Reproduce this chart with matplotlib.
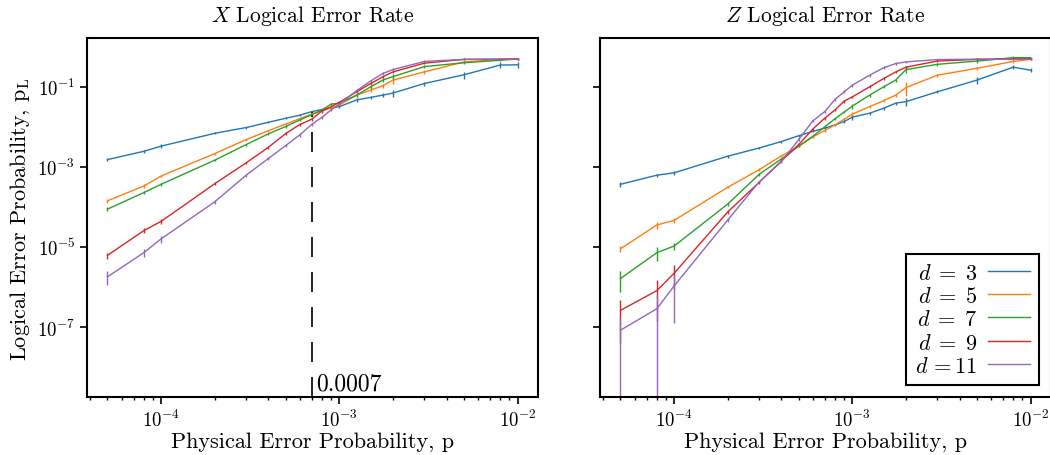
import matplotlib
matplotlib.use("Agg")
import matplotlib.pyplot as plt
import numpy as np
from matplotlib.ticker import FixedLocator, NullLocator, LogLocator

plt.rcParams['mathtext.fontset'] = 'cm'
plt.rcParams['font.family'] = 'serif'
plt.rcParams['font.serif'] = ['cmr10', 'DejaVu Serif']
plt.rcParams['axes.formatter.use_mathtext'] = True
plt.rcParams['axes.unicode_minus'] = False

# Physical error probabilities
p = [5e-5, 8e-5, 1e-4, 2e-4, 3e-4, 4e-4, 5e-4, 6e-4, 7e-4, 8e-4, 9e-4,
     1e-3, 1.25e-3, 1.5e-3, 1.75e-3, 2e-3, 3e-3, 5e-3, 8e-3, 1e-2]

distances = [3, 5, 7, 9, 11]
labels = [r'$d\;=\;3\hspace{0.11}$', r'$d\;=\;5\hspace{0.11}$', r'$d\;=\;7\hspace{0.11}$',
          r'$d\;=\;9\hspace{0.11}$', r'$d\,=11$']
colors = ['#1f77b4', '#ff7f0e', '#2ca02c', '#d62728', '#9467bd']

# X logical error rate
x_d3 = [1.52e-3, 2.45e-3, 3.3e-3, 6.9e-3, 9.6e-3, 1.3e-2, 1.64e-2, 1.95e-2, 2.4e-2, 2.7e-2, 2.96e-2,
        3.2e-2, 4.7e-2, 5.45e-2, 6.2e-2, 7.0e-2, 0.121, 0.20, 0.35, 0.355]
x_d5 = [1.42e-4, 3.33e-4, 5.9e-4, 2.15e-3, 4.8e-3, 8.0e-3, 1.17e-2, 1.6e-2, 2.1e-2, 2.5e-2, 3.0e-2,
        3.5e-2, 6.2e-2, 8.3e-2, 0.106, 0.147, 0.236, 0.417, 0.485, 0.505]
x_d7 = [8.8e-5, 2.28e-4, 3.67e-4, 1.47e-3, 3.6e-3, 6.7e-3, 1.02e-2, 1.49e-2, 2.0e-2, 2.65e-2, 3.7e-2,
        3.9e-2, 6.2e-2, 0.10, 0.147, 0.18, 0.32, 0.40, 0.46, 0.50]
x_d9 = [6.15e-6, 2.56e-5, 4.35e-5, 3.8e-4, 1.26e-3, 3.08e-3, 6.8e-3, 1.14e-2, 1.55e-2, 2.5e-2, 3.2e-2,
        4.1e-2, 7.5e-2, 0.121, 0.177, 0.236, 0.39, 0.485, 0.49, 0.49]
x_d11 = [1.79e-6, 7.2e-6, 1.59e-5, 1.34e-4, 6.2e-4, 1.62e-3, 3.4e-3, 6.3e-3, 1.15e-2, 1.74e-2, 2.65e-2,
         3.7e-2, 8.0e-2, 0.14, 0.214, 0.27, 0.43, 0.485, 0.49, 0.49]

# relative error bars (X)
xe_d3 = [0.10, 0.08, 0.10, 0.06, 0.06, 0.06, 0.06, 0.06, 0.06, 0.06, 0.06,
         0.08, 0.10, 0.10, 0.10, 0.20, 0.12, 0.20, 0.17, 0.17]
xe_d5 = [0.10, 0.10, 0.08, 0.06, 0.06, 0.06, 0.06, 0.06, 0.06, 0.06, 0.06,
         0.08, 0.10, 0.10, 0.10, 0.20, 0.10, 0.08, 0.06, 0.06]
xe_d7 = [0.10, 0.08, 0.08, 0.06, 0.06, 0.06, 0.06, 0.06, 0.06, 0.06, 0.06,
         0.10, 0.10, 0.10, 0.10, 0.17, 0.08, 0.08, 0.06, 0.06]
xe_d9 = [0.17, 0.14, 0.14, 0.08, 0.08, 0.08, 0.10, 0.10, 0.10, 0.10, 0.08,
         0.08, 0.08, 0.08, 0.08, 0.08, 0.06, 0.06, 0.06, 0.06]
xe_d11 = [0.39, 0.23, 0.20, 0.10, 0.08, 0.08, 0.10, 0.10, 0.10, 0.10, 0.08,
          0.08, 0.08, 0.08, 0.08, 0.08, 0.06, 0.06, 0.06, 0.06]

# Z logical error rate
z_d3 = [3.67e-4, 6.2e-4, 7.1e-4, 1.85e-3, 2.96e-3, 4.3e-3, 6.0e-3, 7.7e-3, 9.3e-3, 1.12e-2, 1.36e-2,
        1.75e-2, 2.19e-2, 2.92e-2, 3.9e-2, 4.26e-2, 7.5e-2, 0.147, 0.31, 0.26]
z_d5 = [9.0e-6, 3.53e-5, 4.6e-5, 3.1e-4, 8.5e-4, 1.88e-3, 3.27e-3, 5.6e-3, 8.1e-3, 1.12e-2, 1.55e-2,
        2.08e-2, 3.2e-2, 4.5e-2, 6.2e-2, 9.6e-2, 0.195, 0.29, 0.43, 0.485]
z_d7 = [1.62e-6, 7.2e-6, 1.05e-5, 1.18e-4, 6.5e-4, 1.58e-3, 3.3e-3, 5.8e-3, 1.0e-2, 1.6e-2, 2.36e-2,
        3.3e-2, 6.2e-2, 0.10, 0.147, 0.27, 0.365, 0.44, 0.535, 0.535]
z_d9 = [2.6e-7, 8.1e-7, 2.2e-6, 7.5e-5, 4.1e-4, 1.4e-3, 3.6e-3, 8.8e-3, 1.64e-2, 2.65e-2, 4.4e-2,
        5.6e-2, 0.10, 0.161, 0.235, 0.31, 0.44, 0.485, 0.505, 0.505]
z_d11 = [8.3e-8, 2.85e-7, 1.06e-6, 4.7e-5, 4.2e-4, 1.36e-3, 4.8e-3, 1.41e-2, 2.4e-2, 4.87e-2, 7.5e-2,
         0.11, 0.195, 0.30, 0.38, 0.42, 0.48, 0.49, 0.49, 0.49]

# relative error bars (Z)
ze_d3 = [0.13, 0.08, 0.13, 0.08, 0.06, 0.06, 0.06, 0.06, 0.06, 0.06, 0.06,
         0.17, 0.08, 0.08, 0.10, 0.20, 0.08, 0.22, 0.12, 0.12]
ze_d5 = [0.19, 0.19, 0.14, 0.06, 0.08, 0.06, 0.06, 0.06, 0.06, 0.06, 0.06,
         0.12, 0.08, 0.08, 0.08, 0.40, 0.08, 0.11, 0.08, 0.06]
ze_d7 = [0.55, 0.39, 0.19, 0.12, 0.08, 0.06, 0.06, 0.06, 0.06, 0.06, 0.06,
         0.15, 0.08, 0.08, 0.08, 0.20, 0.08, 0.10, 0.08, 0.06]
ze_d9 = [0.85, 0.83, 0.61, 0.10, 0.08, 0.06, 0.08, 0.08, 0.08, 0.08, 0.08,
         0.08, 0.08, 0.08, 0.08, 0.08, 0.06, 0.06, 0.06, 0.06]
ze_d11 = [1.05, 1.20, 0.88, 0.12, 0.08, 0.06, 0.08, 0.08, 0.08, 0.08, 0.08,
          0.08, 0.08, 0.08, 0.08, 0.08, 0.06, 0.06, 0.06, 0.06]

threshold_p = 7e-4
threshold_pL = 2.4e-2
threshold_label = '0.0007'

X_series = [x_d3, x_d5, x_d7, x_d9, x_d11]
X_errs = [xe_d3, xe_d5, xe_d7, xe_d9, xe_d11]
Z_series = [z_d3, z_d5, z_d7, z_d9, z_d11]
Z_errs = [ze_d3, ze_d5, ze_d7, ze_d9, ze_d11]

W, H = 1050, 456
fig = plt.figure(figsize=(W / 100, H / 100), dpi=100)
axL = fig.add_axes([87 / W, 1 - 398 / H, 451 / W, 359 / H])
axR = fig.add_axes([600 / W, 1 - 398 / H, 451 / W, 359 / H], sharey=axL)

ylo, yhi = 10 ** -8.75, 10 ** 0.22
xlo, xhi = 10 ** -4.416, 10 ** -1.885

handles = []
for ax, series, errs, title in [(axL, X_series, X_errs, r'$X$ Logical Error Rate'),
                                (axR, Z_series, Z_errs, r'$Z$ Logical Error Rate')]:
    handles = []
    for y, e, c, lab in zip(series, errs, colors, labels):
        yv = np.array(y)
        ev = yv * np.array(e)
        cont = ax.errorbar(p, yv, yerr=ev, color=c, lw=1.0, elinewidth=1.0, capsize=0, label=lab)
        handles.append(cont.lines[0])
    ax.set_xscale('log')
    ax.set_yscale('log')
    ax.set_xlim(xlo, xhi)
    ax.set_ylim(ylo, yhi)
    ax.set_title(title, fontsize=15.5, pad=12)
    ax.set_xlabel(r'Physical Error Probability, p', fontsize=16, labelpad=1)
    for s in ax.spines.values():
        s.set_linewidth(1.5)
    ax.yaxis.set_major_locator(FixedLocator([1e-1, 1e-3, 1e-5, 1e-7]))
    ax.yaxis.set_minor_locator(NullLocator())
    ax.xaxis.set_major_locator(LogLocator(base=10))
    ax.xaxis.set_minor_locator(LogLocator(base=10, subs=np.arange(2, 10)))
    ax.tick_params(which='major', length=5, width=1.2, labelsize=13.5)
    ax.tick_params(which='minor', length=2.5, width=1.0)

axL.set_ylabel(r'Logical Error Probability, $\mathrm{p}_\mathrm{L}$', fontsize=16, labelpad=4)
plt.setp(axR.get_yticklabels(), visible=False)

axL.vlines(threshold_p, ylo, threshold_pL, colors='k', linewidth=1.2, linestyles=[(0, (12, 9))])
axL.annotate(threshold_label, xy=(threshold_p, ylo), xytext=(3, 2), textcoords='offset points',
             fontsize=17, ha='left', va='bottom')

leg = axR.legend(handles=handles, labels=labels, loc='lower right', fontsize=16,
                 markerfirst=False, fancybox=False,
                 edgecolor='k', framealpha=1, handlelength=1.9, handletextpad=0.45,
                 labelspacing=0.15, borderpad=0.4, borderaxespad=0.55)
leg.get_frame().set_linewidth(1.5)

fig.savefig('out.png', dpi=100)
